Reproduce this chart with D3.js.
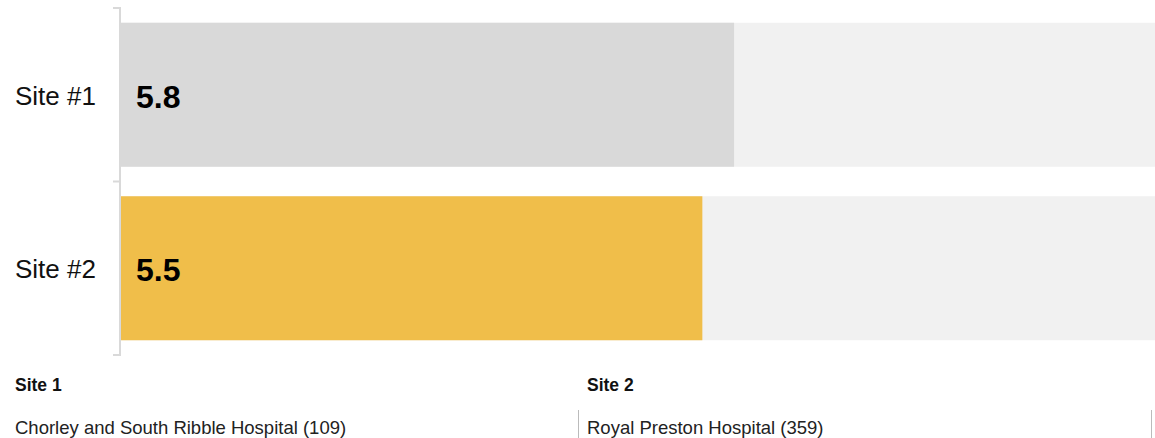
<!DOCTYPE html>
<html>
<head>
<meta charset="utf-8">
<script src="https://cdn.jsdelivr.net/npm/d3@7"></script>
<style>
  html, body { margin: 0; padding: 0; background: #fff; overflow: hidden; }
  body { width: 1155px; height: 438px; font-family: "Liberation Sans", Arial, sans-serif; }
  svg { display: block; font-family: "Liberation Sans", Arial, sans-serif; }
</style>
</head>
<body>
<svg id="chart" width="1155" height="438"></svg>
<script>
const categories = ["Site #1", "Site #2"];
const values = [5.8, 5.5];
const barColors = ["#d9d9d9", "#f0be4a"];
const maxValue = 10;
const siteHeaders = ["Site 1", "Site 2"];
const siteNames = ["Chorley and South Ribble Hospital (109)", "Royal Preston Hospital (359)"];

const svg = d3.select("#chart");
const x = d3.scaleLinear().domain([0, maxValue]).range([121, 1178]);
const y = d3.scaleBand().domain(categories).range([8, 355]).paddingInner(0.17).paddingOuter(0.085);

// background tracks
svg.selectAll("rect.bg").data(categories).join("rect")
  .attr("class", "bg")
  .attr("x", x(0)).attr("y", d => y(d))
  .attr("width", x(maxValue) - x(0)).attr("height", y.bandwidth())
  .attr("fill", "#f1f1f1");

// value bars
svg.selectAll("rect.bar").data(values).join("rect")
  .attr("class", "bar")
  .attr("x", x(0)).attr("y", (d, i) => y(categories[i]))
  .attr("width", d => x(d) - x(0)).attr("height", y.bandwidth())
  .attr("fill", (d, i) => barColors[i]);

// axis line & ticks (band boundaries)
const axisG = svg.append("g");
const [r0, r1] = y.range();
axisG.append("line").attr("x1", 120).attr("x2", 120).attr("y1", r0).attr("y2", r1)
  .attr("stroke", "#d9d9d9").attr("stroke-width", 2);
const tickYs = [r0, (r0 + r1) / 2, r1];
axisG.selectAll("line.tick").data(tickYs).join("line").attr("class", "tick")
  .attr("x1", 113).attr("x2", 121).attr("y1", d => d).attr("y2", d => d)
  .attr("stroke", "#d9d9d9").attr("stroke-width", 2);

// category labels
svg.selectAll("text.cat").data(categories).join("text")
  .attr("class", "cat")
  .attr("x", 15).attr("y", d => y(d) + y.bandwidth() / 2)
  .attr("dy", "0.38em")
  .attr("font-size", 26).attr("fill", "#111")
  .text(d => d);

// value labels
svg.selectAll("text.val").data(values).join("text")
  .attr("class", "val")
  .attr("x", x(0) + 15).attr("y", (d, i) => y(categories[i]) + y.bandwidth() / 2)
  .attr("dy", "0.4em")
  .attr("font-size", 32).attr("font-weight", "bold").attr("fill", "#000")
  .text(d => d.toFixed(1));

// footer
const colX = [15, 587];
svg.selectAll("text.hdr").data(siteHeaders).join("text")
  .attr("class", "hdr")
  .attr("x", (d, i) => colX[i]).attr("y", 391)
  .attr("font-size", 17.5).attr("font-weight", "bold").attr("fill", "#111")
  .text(d => d);
svg.selectAll("text.site").data(siteNames).join("text")
  .attr("class", "site")
  .attr("x", (d, i) => colX[i]).attr("y", 434)
  .attr("font-size", 18.5).attr("fill", "#222")
  .text(d => d);
svg.selectAll("line.sep").data([578.5, 1151.5]).join("line")
  .attr("class", "sep")
  .attr("x1", d => d).attr("x2", d => d).attr("y1", 410).attr("y2", 438)
  .attr("stroke", "#bbb").attr("stroke-width", 1);
</script>
</body>
</html>
